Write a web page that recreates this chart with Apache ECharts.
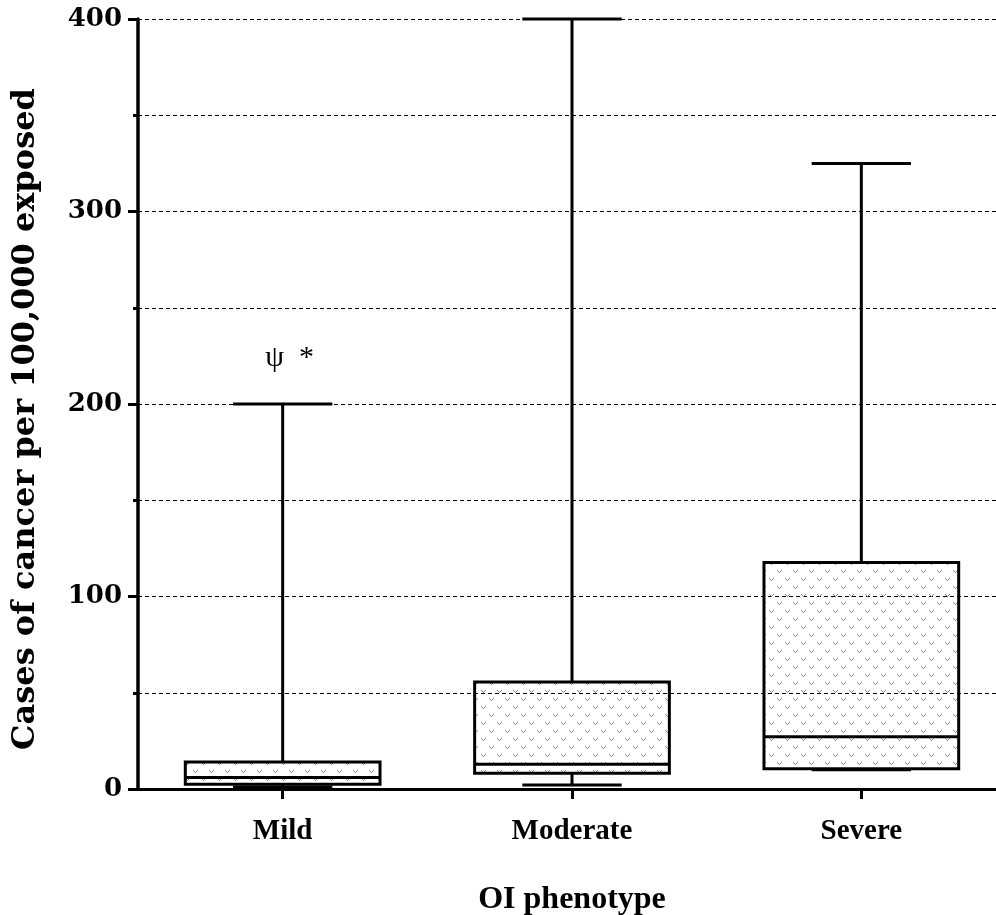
<!DOCTYPE html>
<html>
<head>
<meta charset="utf-8">
<script src="https://cdn.jsdelivr.net/npm/echarts@6/dist/echarts.min.js"></script>
<style>html,body{margin:0;padding:0;background:#fff}#c{width:996px;height:915px}</style>
</head>
<body>
<div id="c"></div>
<script>
const categories = ['Mild', 'Moderate', 'Severe'];
const minValues = [1, 2.1, 10];
const q1Values = [2.5, 8.2, 10.5];
const medianValues = [6, 12.8, 27.2];
const q3Values = [14, 55.6, 117.6];
const maxValues = [200, 400, 325];
const annotations = ['ψ  *', '', ''];

const FONT = '"Liberation Serif", "DejaVu Serif", serif';
const WIDE = '"DejaVu Serif", "Liberation Serif", serif';

// dotted "v" pattern fill
const pat = document.createElement('canvas');
pat.width = 16; pat.height = 16;
(function () {
  const g = pat.getContext('2d');
  g.fillStyle = '#888888';
  const vmark = (x, y) => {
    g.fillRect(x, y, 1, 1);
    g.fillRect(x + 4, y, 1, 1);
    g.fillRect(x + 1, y + 1, 1, 1);
    g.fillRect(x + 3, y + 1, 1, 1);
    g.fillRect(x + 2, y + 2, 1, 1);
  };
  vmark(1, 2);
  vmark(9, 10);
})();

const data = categories.map((c, i) => [i, minValues[i], q1Values[i], medianValues[i], q3Values[i], maxValues[i]]);

const chart = echarts.init(document.getElementById('c'), null, { renderer: 'canvas' });

function renderItem(params, api) {
  const idx = api.value(0);
  const band = api.size([1, 0])[0];
  const bw = band * 0.673;
  const cw = bw * 0.51;
  const pMin = api.coord([idx, api.value(1)]);
  const pQ1 = api.coord([idx, api.value(2)]);
  const pMed = api.coord([idx, api.value(3)]);
  const pQ3 = api.coord([idx, api.value(4)]);
  const pMax = api.coord([idx, api.value(5)]);
  const cx = pQ1[0];
  const ls = { stroke: '#000', lineWidth: 3, fill: null };
  const children = [
    { type: 'rect', shape: { x: cx - bw / 2, y: pQ3[1], width: bw, height: pQ1[1] - pQ3[1] },
      style: { fill: { image: pat, repeat: 'repeat' }, stroke: null } },
    { type: 'line', shape: { x1: cx, y1: pQ3[1], x2: cx, y2: pMax[1] }, style: ls },
    { type: 'line', shape: { x1: cx, y1: pQ1[1], x2: cx, y2: pMin[1] }, style: ls },
    { type: 'line', shape: { x1: cx - cw / 2, y1: pMax[1], x2: cx + cw / 2, y2: pMax[1] }, style: ls },
    { type: 'line', shape: { x1: cx - cw / 2, y1: pMin[1], x2: cx + cw / 2, y2: pMin[1] }, style: ls },
    { type: 'rect', shape: { x: cx - bw / 2, y: pQ3[1], width: bw, height: pQ1[1] - pQ3[1] },
      style: { fill: null, stroke: '#000', lineWidth: 3 } },
    { type: 'line', shape: { x1: cx - bw / 2, y1: pMed[1], x2: cx + bw / 2, y2: pMed[1] }, style: ls }
  ];
  const ann = annotations[idx];
  if (ann) {
    const pa = api.coord([idx, api.value(5) + 24]);
    children.push({ type: 'text', x: pa[0] + 7, y: pa[1],
      style: { text: ann, fill: '#000', font: 'normal 30px ' + FONT, align: 'center', verticalAlign: 'middle' } });
  }
  return { type: 'group', children: children };
}

chart.setOption({
  animation: false,
  backgroundColor: '#fff',
  grid: { left: 138, right: -10, top: 19, bottom: 126, containLabel: false, outerBoundsMode: 'none' },
  xAxis: {
    type: 'category',
    data: categories,
    name: 'OI phenotype',
    nameLocation: 'middle',
    nameGap: 95,
    nameTextStyle: { fontFamily: FONT, fontWeight: 'bold', fontSize: 32, color: '#000' },
    axisLine: { lineStyle: { color: '#000', width: 3 } },
    axisTick: { show: true, alignWithLabel: true, length: 10, lineStyle: { color: '#000', width: 3 } },
    axisLabel: { fontFamily: FONT, fontWeight: 'bold', fontSize: 29, color: '#000', margin: 28 },
    splitLine: { show: false }
  },
  yAxis: {
    type: 'value',
    min: 0, max: 400, interval: 100,
    name: 'Cases of cancer per 100,000 exposed',
    nameLocation: 'middle',
    nameGap: 96,
    nameRotate: 90,
    nameTextStyle: { fontFamily: WIDE, fontWeight: 'bold', fontSize: 32, color: '#000', padding: [0, 30, 0, 0] },
    axisLine: { show: true, lineStyle: { color: '#000', width: 3.5 } },
    axisTick: { show: true, length: 10, lineStyle: { color: '#000', width: 3 } },
    minorTick: { show: true, splitNumber: 2, length: 5, lineStyle: { color: '#000', width: 3 } },
    axisLabel: { fontFamily: WIDE, fontWeight: 'bold', fontSize: 26, color: '#000', margin: 16 },
    splitLine: { show: true, lineStyle: { color: '#000', width: 1, type: [4, 3] } },
    minorSplitLine: { show: true, lineStyle: { color: '#000', width: 1, type: [4, 3] } }
  },
  series: [{
    type: 'custom',
    renderItem: renderItem,
    data: data,
    encode: { x: 0, y: [1, 2, 3, 4, 5] },
    clip: false,
    z: 3
  }]
});
</script>
</body>
</html>
